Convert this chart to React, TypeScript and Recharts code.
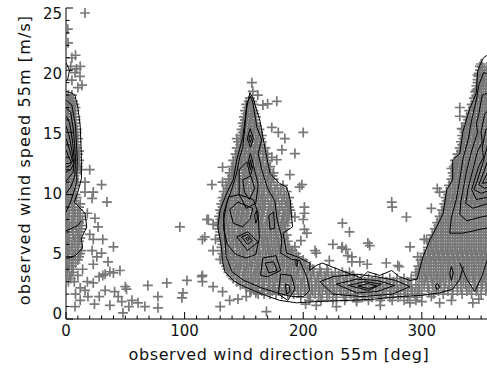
import React from "react";
import { ComposedChart, Scatter, XAxis, YAxis } from "recharts";

type P = [number, number];

const xTicks = [0, 10, 20, 30, 40, 50, 60, 70, 80, 90, 100, 110, 120, 130, 140, 150, 160, 170, 180, 190, 200, 210, 220, 230, 240, 250, 260, 270, 280, 290, 300, 310, 320, 330, 340, 350, 360];
const xLabels = [0, 100, 200, 300];
const yTicks = [0, 1, 2, 3, 4, 5, 6, 7, 8, 9, 10, 11, 12, 13, 14, 15, 16, 17, 18, 19, 20, 21, 22, 23, 24, 25];
const yLabels = [0, 5, 10, 15, 20, 25];

// scattered observations outside the dense clusters
const sparsePoints: P[] = [
  [16, 24.6], [1.5, 23.3], [1.7, 22.2], [5, 21], [4, 20.3], [7.6, 19.8], [9, 20.1], [12, 20.3], [11.8, 19.5], [5, 19.2], [13.5, 18.8], [10, 18.6], [8, 21.2],
  [16, 11], [16, 10.2], [20, 12], [23, 10.2], [22, 9.7], [30, 10.8], [34.5, 9.4], [18, 8.5], [24.4, 8.1], [27, 7.4], [20, 6.8], [23, 6.4], [31, 6.4], [40, 5.8], [22, 5.5], [30, 5.3], [26, 5], [35.4, 4.6], [23, 4.4], [14, 4], [45.5, 3.9], [37, 3.8], [40, 3.7], [33, 3.6], [31, 3.5], [28, 3.4], [10, 3.5], [23, 2.9], [18, 3], [12, 2.5], [16, 2.3], [33, 2.3], [41, 2.2], [50, 2.6], [51, 2.4], [69, 2.7], [85, 2.9], [8, 2], [18.5, 1.8], [28, 1.8], [44, 1.8], [12, 1.5], [47, 1.4], [55.6, 1.5], [60.7, 1.3], [24, 1.2], [37, 1.1], [53, 1], [66.5, 1], [7.6, 1], [77.5, 1.8], [77.5, 0.9], [48, 0.5],
  [96, 7.4], [102, 3.1], [98.6, 2.1], [97.7, 1.7], [115, 3.5], [114.5, 3.4], [115, 3], [117, 6.6], [118.8, 8], [120, 8], [124, 7.6], [115, 6.4], [126, 6.4], [124, 5.5], [130, 4.8], [123, 10.8], [132, 11], [132, 12.2], [143, 12], [124, 2.6], [132, 2.2], [138, 1.5], [145, 1.6], [152, 1.8], [155, 2.3], [160, 2.1], [130, 1], [169, 0.6],
  [156.7, 19], [157.5, 18.3], [161.7, 18], [166, 17.2], [170, 17.3], [177.7, 17.5], [150.8, 16], [173.5, 15.4], [179, 15], [200, 15], [144, 14.5], [184.5, 14.5], [170, 13.3], [173.5, 13], [182, 13.6], [193, 13.3], [148, 13], [177.7, 12.8], [188.7, 11.6], [197, 10.6], [199, 10.8], [201, 9], [201, 8.5], [193, 8.2], [200, 8], [201, 7.2], [203, 6.9], [198, 6.3], [193, 5.8], [191, 5.5],
  [211, 5.3], [225, 6], [222, 4.7], [233, 5.8], [237.6, 5.1], [241, 4.6], [254.5, 6.1], [270, 4.5], [233, 7.7], [239, 7], [232.5, 5.7], [236, 5.6], [210, 5.5], [241, 5], [247.7, 4.6], [254, 4.4], [256, 5.9], [279.7, 4.3], [281, 4.2], [274.6, 9.4], [275, 9], [287, 8.2], [290, 5.8], [296.5, 5], [302, 6.4], [304, 6.4], [308, 8.9], [211, 1.1], [202, 1.2], [245, 1.4], [290, 1.3], [265, 1.1], [228, 1],
  [313, 10.5], [315, 10.2], [332, 17], [332, 16.3], [333.6, 15.3], [325, 12.1], [346, 18.4], [346, 17.9], [347, 19.6], [349, 20.3], [315, 1.3], [325, 1.5], [343, 1.3], [348, 1.6], [300, 1.4], [308, 1.8],
];

// dense clusters, read row by row: [wind speed, directions]
const leftRows: [number, number[]][] = [
  [18, [2, 5]], [17.75, [1, 4]], [17.5, [3, 6]], [17.25, [2, 5, 7]], [17, [1, 4, 8]], [16.75, [1, 4, 7]], [16.5, [2, 6]], [16.25, [2, 5, 8]],
  [16, [1, 4, 8]], [15.75, [1, 5, 8]], [15.5, [3, 7]], [15.25, [2, 6, 9]], [15, [1, 5, 9]], [14.75, [1, 4, 8]], [14.5, [2, 6, 10]], [14.25, [2, 5, 9]],
  [14, [1, 4, 8]], [13.75, [1, 5, 9]], [13.5, [3, 7, 11]], [13.25, [2, 6, 10]], [13, [1, 5, 9]], [12.75, [1, 4, 8, 11]], [12.5, [2, 6, 10]], [12.25, [2, 6, 10]],
  [12, [1, 4, 8, 12]], [11.75, [1, 5, 9]], [11.5, [3, 7]], [11.25, [2, 7]], [11, [1, 5, 10]], [10.75, [1, 4, 8]], [10.5, [2, 6]], [10.25, [2, 6]],
  [10, [1, 4, 8]], [9.75, [1, 5, 9]], [9.5, [3, 7]], [9.25, [2, 7, 12]], [9, [1, 5, 11]], [8.75, [1, 6, 10]], [8.5, [3, 8, 12]], [8.25, [2, 7, 12]],
  [8, [1, 5, 10, 14]], [7.75, [1, 6, 11]], [7.5, [3, 8, 13]], [7.25, [2, 5, 9, 13]], [7, [1, 6, 11]], [6.75, [1, 6, 10]], [6.5, [3, 8, 12]], [6.25, [2, 7, 11]],
  [6, [1, 5, 10]], [5.75, [1, 5, 10]], [5.5, [3, 8, 13]], [5.25, [2, 7, 12]], [5, [1, 6, 11]], [4.75, [1, 5, 10]], [4.5, [3, 8]], [4.25, [2, 5]],
  [4, [1, 6]], [3.75, [1, 5]], [3.5, [3]], [3.25, [4]], [3, [2, 7]],
];

const midRows: [number, number[]][] = [
  [17.75, [155]], [17.5, [154, 157]], [17.25, [152, 155.5, 158]], [17, [153, 157]], [16.75, [151, 154, 158]], [16.5, [152, 156, 159]],
  [16.25, [150, 153, 157, 160]], [16, [151, 155, 159]], [15.75, [149, 152, 156, 160]], [15.5, [150, 154, 158, 161]], [15.25, [148, 151, 155, 159, 163]],
  [15, [149, 153, 157, 162]], [14.75, [147, 150, 154, 158, 162, 165]], [14.5, [148, 152, 156, 160, 164]], [14.25, [145, 149, 153, 157, 161, 165]],
  [14, [147, 151, 155, 159, 163]], [13.75, [144, 148, 152, 156, 160, 164, 168]], [13.5, [146, 150, 154, 158, 162, 166]],
  [13.25, [143, 146, 151, 155, 159, 163, 168]], [13, [144, 148, 153, 157, 161, 166]], [12.75, [141, 145, 149, 154, 158, 162, 166, 170]],
  [12.5, [143, 147, 151, 156, 160, 164, 169]], [12.25, [140, 143, 148, 152, 156, 161, 165, 169, 172]], [12, [141, 145, 150, 154, 158, 163, 167, 171]],
  [11.75, [138, 142, 146, 151, 155, 159, 164, 168, 172, 175]], [11.5, [140, 144, 149, 153, 157, 161, 166, 170, 174]],
  [11.25, [137, 140, 145, 149, 153, 158, 162, 166, 171, 175]], [11, [138, 142, 147, 151, 156, 160, 164, 169, 173]],
  [10.75, [135, 138, 143, 147, 152, 156, 160, 165, 169, 173, 178, 183]], [10.5, [136, 140, 145, 149, 154, 158, 162, 167, 171, 176, 181]],
  [10.25, [133, 137, 141, 146, 150, 154, 159, 163, 167, 172, 176, 181, 186]], [10, [135, 139, 143, 148, 152, 157, 161, 165, 170, 174, 179, 184]],
  [9.75, [132, 135, 140, 144, 149, 153, 157, 162, 166, 170, 175, 179, 184, 188]], [9.5, [133, 137, 142, 146, 151, 155, 159, 164, 168, 173, 177, 182, 186]],
  [9.25, [131, 134, 138, 143, 147, 151, 156, 160, 164, 168, 173, 177, 182, 187]], [9, [132, 136, 140, 145, 149, 153, 158, 162, 166, 171, 175, 180, 185, 188]],
  [8.75, [130, 133, 137, 142, 146, 150, 154, 159, 163, 167, 172, 176, 180, 185, 189]], [8.5, [131, 135, 139, 144, 148, 152, 157, 161, 165, 170, 174, 178, 183, 187]],
  [8.25, [129, 132, 136, 141, 145, 149, 153, 158, 162, 166, 171, 175, 179, 184, 188]], [8, [130, 134, 138, 143, 147, 151, 156, 160, 164, 169, 173, 177, 182, 186]],
  [7.75, [128, 131, 135, 140, 144, 148, 153, 157, 161, 165, 170, 174, 179, 183, 187]], [7.5, [129, 133, 137, 142, 146, 150, 155, 159, 163, 168, 172, 176, 181, 185]],
  [7.25, [129, 132, 136, 140, 145, 149, 153, 157, 162, 166, 170, 175, 179, 184]], [7, [130, 134, 138, 142, 147, 151, 155, 160, 164, 168, 173, 177, 182]],
  [6.75, [130, 133, 137, 142, 146, 150, 155, 159, 163, 168, 172, 177, 181, 186]], [6.5, [131, 135, 140, 144, 148, 153, 157, 161, 166, 170, 175, 179, 184]],
  [6.25, [131, 134, 138, 143, 147, 151, 156, 160, 165, 169, 173, 178, 182, 187]], [6, [132, 136, 141, 145, 149, 154, 158, 163, 167, 171, 176, 180, 185]],
  [5.75, [131, 135, 139, 144, 148, 152, 157, 161, 166, 170, 174, 179, 183, 188]], [5.5, [132, 137, 141, 146, 150, 155, 159, 163, 168, 172, 177, 181, 186, 190]],
  [5.25, [132, 136, 140, 144, 149, 153, 158, 162, 166, 171, 175, 180, 184, 189, 194]], [5, [133, 138, 142, 147, 151, 155, 160, 164, 169, 173, 178, 182, 187, 191, 196]],
  [4.75, [133, 137, 141, 146, 150, 155, 159, 164, 168, 173, 177, 182, 186, 191, 195, 200]],
  [4.5, [134, 139, 144, 148, 153, 157, 162, 166, 171, 175, 180, 184, 189, 193, 198, 202]],
  [4.25, [135, 138, 143, 147, 152, 156, 161, 165, 170, 174, 179, 183, 188, 192, 197, 201, 206]],
  [4, [136, 141, 145, 150, 154, 159, 163, 168, 172, 177, 181, 186, 190, 195, 199, 204]],
  [3.75, [137, 142, 146, 151, 156, 160, 165, 169, 174, 178, 183, 187, 192, 196]], [3.5, [139, 144, 149, 153, 158, 162, 167, 171, 176, 180, 185, 189, 194]],
  [3.25, [141, 146, 151, 156, 160, 165, 169, 174, 178, 183, 187, 192]], [3, [144, 149, 154, 158, 163, 167, 172, 176, 181, 185, 190]],
  [2.75, [147, 152, 158, 162, 167, 171, 176, 180, 185, 189, 193]], [2.5, [152, 157, 162, 166, 171, 175, 180, 185, 189]],
  [2.25, [156, 160, 165, 170, 174, 179, 184, 189]], [2, [162, 167, 172, 177, 182, 187]],
];

const bandRows: [number, number[]][] = [
  [4, [208, 214, 220]],
  [3.75, [203, 209, 215, 221, 227, 233, 239]],
  [3.5, [200, 206, 212, 218, 224, 230, 236, 242]],
  [3.25, [196, 201, 207, 213, 219, 225, 231, 237, 243, 249, 255, 261, 267, 273, 279, 285, 291]],
  [3, [198, 204, 210, 216, 222, 228, 234, 240, 246, 252, 258, 264, 270, 276, 282, 288]],
  [2.75, [193, 199, 205, 211, 217, 223, 229, 235, 241, 247, 253, 259, 265, 271, 277, 283, 289, 295]],
  [2.5, [195, 201, 207, 213, 219, 225, 231, 237, 243, 249, 255, 261, 267, 273, 279, 285, 291, 297]],
  [2.25, [190, 196, 202, 208, 214, 220, 226, 232, 238, 244, 250, 256, 262, 268, 274, 280, 286, 292, 298]],
  [2, [192, 198, 204, 210, 216, 222, 228, 234, 240, 246, 252, 258, 264, 270, 276, 282, 288, 294, 300]],
  [1.75, [198, 206, 213, 220, 228, 236, 243, 250, 258, 266, 273, 280, 288, 296]],
  [1.5, [205, 215, 225, 235, 245, 255, 265, 275, 285, 295]],
];

const rightRows: [number, number[]][] = [
  [20.5, [350]], [20.25, [351, 355]], [20, [349, 353, 357]], [19.75, [348, 351, 355, 358]], [19.5, [348, 352, 356]], [19.25, [347, 350, 353, 357]],
  [19, [347, 351, 355]], [18.75, [346, 349, 352, 356]], [18.5, [347, 350, 354, 358]], [18.25, [345, 348, 352, 356]], [18, [346, 350, 354, 358]],
  [17.75, [344, 347, 351, 355, 358]], [17.5, [345, 349, 353, 357]], [17.25, [342, 345, 349, 353, 357]], [17, [343, 347, 351, 355]],
  [16.75, [340, 344, 347, 351, 355]], [16.5, [341, 345, 349, 353, 357]], [16.25, [338, 341, 345, 349, 353, 357]], [16, [339, 343, 347, 351, 355]],
  [15.75, [337, 340, 344, 348, 352, 356]], [15.5, [338, 342, 346, 350, 354, 358]], [15.25, [335, 338, 342, 346, 350, 354, 358]],
  [15, [336, 340, 344, 348, 352, 356]], [14.75, [334, 337, 341, 345, 349, 353, 357]], [14.5, [335, 339, 343, 347, 351, 355]],
  [14.25, [333, 336, 340, 344, 348, 352, 356]], [14, [334, 338, 342, 346, 350, 354, 358]], [13.75, [332, 335, 339, 343, 347, 351, 355]],
  [13.5, [333, 337, 341, 345, 349, 353, 357]], [13.25, [330, 333, 337, 341, 345, 349, 353, 357]], [13, [331, 335, 339, 343, 347, 351, 355]],
  [12.75, [328, 331, 335, 339, 343, 347, 351, 355]], [12.5, [329, 333, 337, 341, 345, 349, 353, 357]],
  [12.25, [327, 330, 334, 338, 342, 346, 350, 354, 358]], [12, [328, 332, 336, 340, 344, 348, 352, 356]],
  [11.75, [326, 329, 333, 337, 341, 345, 349, 353, 357]], [11.5, [327, 331, 335, 339, 343, 347, 351, 355]],
  [11.25, [325, 328, 332, 336, 340, 344, 348, 352, 356]], [11, [326, 330, 334, 338, 342, 346, 350, 354, 358]],
  [10.75, [323, 326, 330, 334, 338, 342, 346, 350, 354, 358]], [10.5, [324, 328, 332, 336, 340, 344, 348, 352, 356]],
  [10.25, [321, 324, 328, 332, 336, 340, 344, 348, 352, 356]], [10, [322, 326, 330, 334, 338, 342, 346, 350, 354, 358]],
  [9.75, [320, 323, 327, 331, 335, 339, 343, 347, 351, 355]], [9.5, [321, 325, 329, 333, 337, 341, 345, 349, 353, 357]],
  [9.25, [319, 322, 326, 330, 334, 338, 342, 346, 350, 354, 358]], [9, [320, 324, 328, 332, 336, 340, 344, 348, 352, 356]],
  [8.75, [317, 320, 324, 328, 332, 336, 340, 344, 348, 352, 356]], [8.5, [318, 322, 326, 330, 334, 338, 342, 346, 350, 354, 358]],
  [8.25, [315, 318, 322, 326, 330, 334, 338, 342, 346, 350, 354, 358]], [8, [316, 320, 324, 328, 332, 336, 340, 344, 348, 352, 356]],
  [7.75, [313, 316, 320, 324, 328, 332, 336, 340, 344, 348, 352, 356]], [7.5, [314, 318, 322, 326, 330, 334, 338, 342, 346, 350, 354]],
  [7.25, [311, 314, 318, 322, 326, 330, 334, 338, 342, 346, 350, 354, 358]], [7, [312, 316, 320, 324, 328, 332, 336, 340, 344, 348, 352, 356]],
  [6.75, [309, 312, 316, 320, 324, 328, 332, 336, 340, 344, 348, 352, 356]], [6.5, [310, 314, 318, 322, 326, 330, 334, 338, 342, 346, 350, 354, 358]],
  [6.25, [307, 310, 314, 318, 322, 326, 330, 334, 338, 342, 346, 350, 354, 358]], [6, [308, 312, 316, 320, 324, 328, 332, 336, 340, 344, 348, 352, 356]],
  [5.75, [305, 308, 312, 316, 320, 324, 328, 332, 336, 340, 344, 348, 352, 356]], [5.5, [306, 310, 314, 318, 322, 326, 330, 334, 338, 342, 346, 350, 354]],
  [5.25, [302, 305, 309, 313, 317, 321, 325, 329, 333, 337, 341, 345, 349, 353, 357]],
  [5, [303, 307, 311, 315, 319, 323, 327, 331, 335, 339, 343, 347, 351, 355]],
  [4.75, [299, 302, 306, 310, 314, 318, 322, 326, 330, 334, 338, 342, 346, 350, 354, 358]],
  [4.5, [300, 304, 308, 312, 316, 320, 324, 328, 332, 336, 340, 344, 348, 352, 356]],
  [4.25, [297, 300, 304, 308, 312, 316, 320, 324, 328, 332, 336, 340, 344, 348, 352, 356]],
  [4, [298, 302, 306, 310, 314, 318, 322, 326, 330, 334, 338, 342, 346, 350, 354]],
  [3.75, [295, 298, 302, 306, 310, 314, 318, 322, 326, 330, 334, 338, 342, 346, 350, 354, 358]],
  [3.5, [296, 300, 304, 308, 312, 316, 320, 324, 328, 332, 336, 340, 344, 348, 352, 356]],
  [3.25, [298, 303, 308, 313, 318, 323, 328, 333, 338, 343, 348, 353, 358]],
  [3, [300, 305, 310, 315, 320, 325, 330, 335, 340, 345, 350, 355]],
  [2.75, [302, 309, 316, 323, 330, 337, 344, 351, 358]], [2.5, [305, 312, 319, 326, 333, 340, 347, 354]],
  [2.25, [306, 314, 322, 330, 338, 346, 354]], [2, [310, 318, 326, 334, 342, 350]],
];

// density contours
const leftOuter: P[] = [[0, 18.3], [4, 18.2], [7.5, 18], [10, 17], [12, 15.5], [13, 13], [13, 11.3], [10, 10.2], [7, 9.4], [11, 9], [16, 8.5], [17.5, 7.4], [13, 6.5], [14, 5.7], [8, 5.1], [3, 4.9], [0, 4.9]];
const left2: P[] = [[0, 17.6], [5, 17.2], [8, 15.5], [9.5, 13], [9, 11], [6, 10], [3, 9.2], [0, 8.6]];
const left3: P[] = [[0, 17], [4, 16.6], [6.5, 15], [8, 13], [7.5, 11.5], [4, 10.6], [0, 10.1]];
const left4: P[] = [[0, 16.3], [3, 15.8], [5.5, 14.3], [7, 12.8], [6, 11.8], [2, 11.3], [0, 11.1]];
const left5: P[] = [[0, 15.5], [2.5, 14.8], [5, 13.5], [6.5, 12.5], [4, 12], [0, 11.8]];
const left6: P[] = [[0, 14.5], [3, 13.6], [5.5, 12.7], [3, 12.3], [0, 12.2]];
const left7: P[] = [[0, 13.6], [2, 13.1], [4.5, 12.6], [2, 12.5], [0, 12.5]];
const leftLow: P[] = [[0, 7.1], [5, 7.3], [10, 7.5], [13, 7.9]];
const leftTop: P[] = [[0, 20.6], [3, 20], [1.5, 19.3], [0, 19.1]];

const mainOuter: P[] = [
  [194.5, 1.3], [180, 1.5], [168, 1.9], [158, 2.3], [148, 2.7], [141, 3.1], [134, 3.8], [132, 4.6], [131, 5.8], [128, 7.4], [130, 8.8], [135.5, 10.1], [141, 11.2], [144, 12.8],
  [149, 14.6], [151, 16], [152, 16.8], [155, 18.2], [158, 17.7], [160, 17], [163.4, 16], [167.6, 13.8], [172, 11.7], [180, 10.9], [186, 10.6], [189, 9.6], [190, 8.5],
  [191, 7.4], [183, 6.9], [186, 5.3], [195, 5], [205.5, 4.5], [205.5, 3.9], [211, 4.3], [216, 4.5], [226.6, 4.1], [237.6, 3.7], [249, 3.3], [254.4, 3.8], [264.5, 3.5],
  [274.6, 3.9], [281, 3.4], [290, 3.1], [296, 3.2], [301, 5], [307, 6.4], [312.5, 7.4], [318, 8.5], [321, 10.4], [326, 11.2], [326, 12.8], [332, 13.3], [334.5, 15],
  [340, 16.8], [346, 18.2], [347, 19.9], [349, 20.4], [352, 21], [358, 21.4], [365, 21.5],
];
const mainBottom: P[] = [[194.5, 1.3], [211, 1.4], [239, 1.5], [260, 1.6], [281, 1.8], [300, 1.9], [315, 2.1], [326, 2.4], [332, 3.2], [335, 4.2]];
const mid2: P[] = [
  [155.5, 17.9], [157.5, 17.4], [161, 15.4], [165, 14.4], [162, 13.3], [165, 12], [170, 10.5], [176, 9.5], [178, 8], [182, 6.5], [181, 5.3], [190, 4.8], [197, 4.7],
  [203, 3.4], [205.5, 2.3], [200, 1.8], [190, 1.8], [178, 2.1], [165, 2.5], [150, 3.1], [140, 3.8], [135, 5], [134, 6.5], [133, 8], [135.5, 9.3], [140, 10.5],
  [144, 11.8], [146.5, 13], [149, 13.8], [150.8, 15.4], [152.5, 17.4], [155.5, 17.9],
];
const midD1: P[] = [[155.3, 15.3], [158, 14.5], [155.5, 13.8], [152.8, 14.5], [155.3, 15.3]];
const midD1i: P[] = [[155.3, 14.8], [156.5, 14.5], [155.4, 14.2], [154.2, 14.5], [155.3, 14.8]];
const midD2: P[] = [[155.5, 13.3], [158, 12.4], [155.5, 11.5], [153, 12.4], [155.5, 13.3]];
const midD2i: P[] = [[155.5, 12.8], [156.5, 12.4], [155.5, 12], [154.5, 12.4], [155.5, 12.8]];
const midP: P[] = [[149, 11.2], [156, 11.5], [159, 10.5], [154.5, 9.6], [150.5, 10.2], [149, 11.2]];
const midP2: P[] = [[146, 12], [152, 12.6], [158.5, 12.2], [162, 10.8], [160, 9.3], [152, 8.9], [146, 10], [146, 12]];
const midL: P[] = [[138, 8.8], [145, 9.4], [157.5, 8.9], [155, 8], [149, 7.4], [141, 7.7], [138, 8.8]];
const midL2: P[] = [[133, 8.5], [137, 9.8], [146, 10], [158, 9.6], [162, 8.5], [163, 6.5], [160, 5.2], [152, 4.9], [143, 5.2], [136, 6], [133, 7.2], [133, 8.5]];
const midM: P[] = [[144, 6.6], [153, 7], [162, 6.2], [153, 5.5], [144, 6.6]];
const midMi: P[] = [[148, 6.6], [153, 6.8], [157, 6.3], [153, 6], [148, 6.6]];
const midMii: P[] = [[151.5, 6.5], [153, 6.6], [154.5, 6.4], [153, 6.3], [151.5, 6.5]];
const midW: P[] = [[159, 8.3], [160.5, 8.7], [161.5, 8.1], [160, 7.7], [159, 8.3]];
const midT: P[] = [[171, 8.3], [175, 8.6], [176, 7.3], [172, 7.2], [171, 8.3]];
const midS: P[] = [[166, 4.9], [177, 5.1], [181, 3.9], [170, 3.4], [164, 3.5], [166, 4.9]];
const midSi: P[] = [[168, 4.5], [175, 4.6], [178, 3.9], [171, 3.7], [168, 4.5]];
const midR: P[] = [[181, 3.6], [190, 3.5], [193, 2.4], [187, 1.5], [179, 2], [181, 3.6]];
const midRi: P[] = [[185, 2.8], [188, 2.7], [189, 2.2], [186, 2], [185, 2.8]];
const midTiny: P[] = [[194, 4.8], [195.3, 4.6], [194.6, 4.2], [193.8, 4.4], [194, 4.8]];

const band2: P[] = [[214, 3], [225, 3.4], [245, 3.6], [262, 3.4], [278, 3.1], [290, 2.6], [275, 2], [250, 1.8], [225, 2], [214, 3]];
const band3: P[] = [[228, 2.8], [245, 3.2], [262, 3.1], [277, 2.7], [262, 2.2], [245, 2.1], [228, 2.8]];
const band4: P[] = [[238, 2.7], [252, 3], [266, 2.8], [255, 2.3], [238, 2.7]];
const band5: P[] = [[246, 2.65], [255, 2.85], [262, 2.65], [255, 2.45], [246, 2.65]];

const right2: P[] = [[365, 19.5], [352, 19.8], [348, 18.8], [346, 17.6], [342, 16], [339, 14.4], [334.5, 12.8], [332, 11.2], [329, 9.6], [325, 8.2], [323.5, 6.9], [334.5, 6.9], [349, 7.2], [365, 7.5]];
const right3: P[] = [[365, 18.5], [351, 18], [348, 16.5], [346, 15.7], [347, 15], [342, 13.5], [338, 12], [335, 10.5], [333, 9.5], [332, 8.4], [338, 7.9], [350, 8.2], [365, 8.5]];
const right4: P[] = [[365, 17.5], [353, 16.5], [350, 15], [351, 14.2], [347, 13.5], [343, 12], [339, 10.5], [337, 9.3], [343, 8.9], [353, 9.2], [365, 9.5]];
const right5: P[] = [[365, 16.3], [354, 15.2], [351, 13.8], [352, 13], [348, 12.3], [342, 10.4], [346, 9.6], [356, 9.8], [365, 10.1]];
const right6: P[] = [[365, 15.2], [356, 14.2], [352, 12.7], [347, 11.2], [344, 10.4], [350, 10.1], [365, 10.6]];
const right7: P[] = [[365, 14.2], [357, 13.2], [353, 12], [348, 10.8], [353, 10.5], [365, 11]];
const right8: P[] = [[365, 13.2], [358, 12.4], [354, 11.5], [351, 10.9], [357, 11], [365, 11.6]];
const rightV: P[] = [[332, 4.5], [338, 3.2], [344.6, 2.2], [351, 3.5], [356, 5], [365, 5.5]];
const rightO1: P[] = [[325, 4.2], [326.5, 3.7], [325, 3.1], [323.5, 3.7], [325, 4.2]];
const rightO2: P[] = [[311.5, 2.7], [313.5, 2.85], [315, 2.55], [312.5, 2.35], [311.5, 2.7]];

const contours: P[][] = [
  leftOuter, left2, left3, left4, left5, left6, left7, leftLow, leftTop,
  mainOuter, mainBottom, mid2, midD1, midD1i, midD2, midD2i, midP, midP2, midL, midL2, midM, midMi, midMii, midW, midT, midS, midSi, midR, midRi, midTiny,
  band2, band3, band4, band5,
  right2, right3, right4, right5, right6, right7, right8, rightV, rightO1, rightO2,
];

const toXY = (pts: P[]) => pts.map(([x, y]) => ({ x, y }));
const fromRows = (rows: [number, number[]][]) => rows.flatMap(([y, xs]) => xs.map((x) => ({ x, y })));

const points = [
  ...toXY(sparsePoints),
  ...fromRows(leftRows),
  ...fromRows(midRows),
  ...fromRows(bandRows),
  ...fromRows(rightRows),
];

const FONT = "DejaVu Sans";

function PlusMark({ cx, cy }: any) {
  return (
    <path
      d={`M${cx - 5},${cy}H${cx + 5}M${cx},${cy - 5}V${cy + 5}`}
      stroke="#787878"
      strokeWidth={1.7}
      fill="none"
    />
  );
}

const noShape = () => <g />;

function BottomTick({ x, y, payload }: any) {
  const v = payload.value;
  const len = v % 100 === 0 ? 7 : 3.5;
  return (
    <g>
      <line x1={x} x2={x} y1={y} y2={y - len} stroke="#000" />
      {xLabels.includes(v) && (
        <text x={x} y={y + 17} textAnchor="middle" fontSize={15} fontFamily={FONT} fill="#111">
          {v}
        </text>
      )}
    </g>
  );
}

function TopTick({ x, y, payload }: any) {
  const len = payload.value % 100 === 0 ? 7 : 3.5;
  return <line x1={x} x2={x} y1={y} y2={y + len} stroke="#000" />;
}

function LeftTick({ x, y, payload }: any) {
  const v = payload.value;
  const len = v % 5 === 0 ? 7 : 3.5;
  return (
    <g>
      <line x1={x} x2={x + len} y1={y} y2={y} stroke="#000" />
      {yLabels.includes(v) && (
        <text x={x - 4} y={y + 0.42 * v} textAnchor="end" fontSize={15} fontFamily={FONT} fill="#111">
          {v}
        </text>
      )}
    </g>
  );
}

function XTitle() {
  return (
    <text x={279} y={360} textAnchor="middle" fontSize={16} letterSpacing={0.6} fontFamily={FONT} fill="#111">
      observed wind direction 55m [deg]
    </text>
  );
}

function YTitle() {
  return (
    <text
      x={30}
      y={160}
      transform="rotate(-90 30 160)"
      textAnchor="middle"
      fontSize={16}
      letterSpacing={1.1}
      fontFamily={FONT}
      fill="#111"
    >
      observed wind speed 55m [m/s]
    </text>
  );
}

export default function App() {
  return (
    <div
      style={{
        position: "absolute",
        left: 0,
        top: 0,
        width: 487,
        height: 374,
        overflow: "hidden",
        background: "#fff",
      }}
    >
      <ComposedChart width={500} height={374} margin={{ top: 8, right: 7, left: 0, bottom: 0 }}>
        <XAxis
          dataKey="x"
          type="number"
          domain={[0, 360]}
          allowDataOverflow
          ticks={xTicks}
          interval={0}
          tickSize={0}
          tickMargin={0}
          tickLine={false}
          tick={<BottomTick />}
          height={55}
          axisLine={{ stroke: "#000" }}
          label={<XTitle />}
        />
        <XAxis
          xAxisId="top"
          orientation="top"
          dataKey="x"
          type="number"
          domain={[0, 360]}
          allowDataOverflow
          ticks={xTicks}
          interval={0}
          tickSize={0}
          tickMargin={0}
          tickLine={false}
          tick={<TopTick />}
          height={0}
          axisLine={{ stroke: "#000" }}
        />
        <YAxis
          dataKey="y"
          type="number"
          domain={[0, 25]}
          allowDataOverflow
          ticks={yTicks}
          interval={0}
          tickSize={0}
          tickMargin={0}
          tickLine={false}
          tick={<LeftTick />}
          width={66}
          axisLine={{ stroke: "#000" }}
          label={<YTitle />}
        />
        <Scatter data={points} shape={<PlusMark />} isAnimationActive={false} />
        {contours.map((c, i) => (
          <Scatter
            key={i}
            data={toXY(c)}
            line={{ stroke: "#000", strokeWidth: 1 }}
            lineType="joint"
            shape={noShape}
            isAnimationActive={false}
          />
        ))}
      </ComposedChart>
    </div>
  );
}
